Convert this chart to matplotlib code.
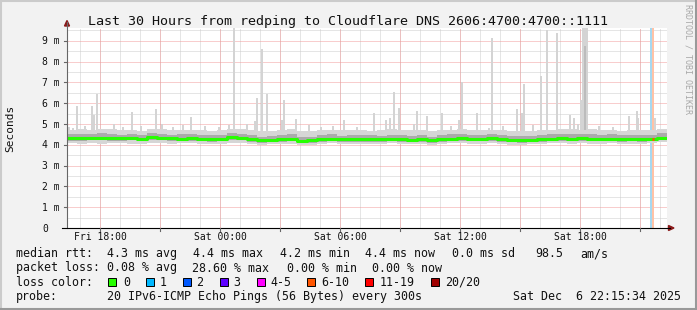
import matplotlib
matplotlib.use('Agg')
import matplotlib.pyplot as plt
import matplotlib.transforms as mtransforms
from matplotlib.patches import Rectangle, Polygon
from matplotlib.lines import Line2D
import numpy as np

# ---- data (hours since graph start Fri 16:21, values in ms) ----
median_rtt = [4.32, 4.31, 4.33, 4.34, 4.32, 4.31, 4.32, 4.30, 4.38, 4.33,
              4.31, 4.30, 4.32, 4.29, 4.28, 4.30, 4.36, 4.33, 4.27, 4.22,
              4.24, 4.26, 4.29, 4.20, 4.22, 4.27, 4.29, 4.26, 4.28, 4.27,
              4.27, 4.26, 4.29, 4.27, 4.25, 4.27, 4.21, 4.28, 4.30, 4.31,
              4.30, 4.29, 4.31, 4.28, 4.24, 4.23, 4.25, 4.26, 4.30, 4.32,
              4.30, 4.32, 4.30, 4.29, 4.30, 4.28, 4.29, 4.27, 4.30, 4.35]
smoke_hi = [4.72, 4.75, 4.70, 4.78, 4.74, 4.70, 4.72, 4.68, 4.76, 4.74,
            4.70, 4.72, 4.69, 4.71, 4.66, 4.70, 4.78, 4.75, 4.72, 4.68,
            4.66, 4.70, 4.74, 4.65, 4.67, 4.70, 4.72, 4.69, 4.73, 4.70,
            4.68, 4.71, 4.74, 4.72, 4.70, 4.73, 4.66, 4.70, 4.72, 4.74,
            4.71, 4.70, 4.73, 4.70, 4.66, 4.65, 4.68, 4.70, 4.72, 4.76,
            4.74, 4.72, 4.78, 4.70, 4.72, 4.68, 4.70, 4.69, 4.72, 4.76]
smoke_lo = [4.08, 4.06, 4.10, 4.05, 4.07, 4.09, 4.06, 4.04, 4.10, 4.08,
            4.05, 4.07, 4.09, 4.04, 4.03, 4.06, 4.10, 4.07, 4.02, 4.00,
            4.03, 4.05, 4.06, 3.99, 4.01, 4.05, 4.07, 4.04, 4.06, 4.05,
            4.04, 4.03, 4.07, 4.05, 4.03, 4.05, 3.99, 4.05, 4.07, 4.08,
            4.06, 4.05, 4.07, 4.05, 4.01, 4.00, 4.02, 4.04, 4.07, 4.09,
            4.06, 4.08, 4.06, 4.05, 4.07, 4.04, 4.06, 4.03, 4.07, 4.12]
mid_hi = [4.50, 4.52, 4.50, 4.56, 4.50, 4.48, 4.52, 4.47, 4.58, 4.52,
          4.49, 4.50, 4.51, 4.46, 4.45, 4.48, 4.56, 4.53, 4.46, 4.40,
          4.42, 4.45, 4.50, 4.40, 4.40, 4.46, 4.50, 4.44, 4.48, 4.46,
          4.45, 4.44, 4.49, 4.46, 4.43, 4.47, 4.40, 4.47, 4.50, 4.52,
          4.49, 4.48, 4.52, 4.46, 4.42, 4.41, 4.44, 4.45, 4.50, 4.53,
          4.50, 4.52, 4.50, 4.47, 4.50, 4.46, 4.48, 4.45, 4.49, 4.55]
mid_lo = [4.20, 4.19, 4.22, 4.21, 4.20, 4.19, 4.21, 4.18, 4.24, 4.21,
          4.19, 4.18, 4.20, 4.17, 4.16, 4.18, 4.23, 4.21, 4.15, 4.10,
          4.12, 4.14, 4.17, 4.08, 4.10, 4.15, 4.17, 4.14, 4.16, 4.15,
          4.15, 4.14, 4.17, 4.15, 4.13, 4.15, 4.09, 4.16, 4.18, 4.19,
          4.18, 4.17, 4.19, 4.16, 4.12, 4.11, 4.13, 4.14, 4.18, 4.20,
          4.18, 4.20, 4.18, 4.17, 4.18, 4.16, 4.17, 4.15, 4.18, 4.23]

spike_hours = [0.10, 0.30, 0.48, 0.90, 1.23, 1.37, 1.50, 2.35, 2.80, 3.23,
               3.70, 4.45, 4.73, 5.30, 5.80, 6.18, 6.90, 7.60, 8.10, 8.35,
               8.98, 9.40, 9.48, 9.73, 10.02, 10.73, 10.85, 11.43, 12.10, 12.70,
               13.30, 13.85, 14.50, 15.35, 15.93, 16.15, 16.35, 16.60, 17.37, 17.48,
               17.98, 18.73, 19.20, 19.60, 19.73, 20.48, 21.10, 21.23, 21.80, 22.48,
               22.73, 22.85, 23.30, 23.68, 23.98, 24.48, 25.15, 25.35, 25.57, 25.70,
               25.82, 25.90, 25.98, 26.60, 27.30, 28.12, 28.48, 28.57, 29.40]
spike_top = [4.85, 4.80, 5.87, 4.90, 5.88, 5.43, 6.44, 5.00, 4.85, 5.58,
             4.90, 5.72, 5.00, 4.85, 4.95, 5.35, 4.90, 4.85, 4.95, 9.70,
             5.00, 5.14, 6.26, 8.60, 6.44, 5.20, 6.15, 5.24, 4.95, 4.85,
             4.90, 5.20, 4.85, 5.53, 5.20, 5.30, 6.52, 5.76, 5.00, 5.63,
             5.40, 5.53, 4.90, 5.20, 7.00, 5.53, 4.80, 9.15, 4.90, 5.72,
             5.53, 6.92, 4.95, 7.32, 9.52, 9.39, 5.43, 5.30, 5.00, 6.15,
             9.70, 9.70, 9.70, 4.90, 4.85, 5.38, 5.64, 5.28, 5.28]
dark_spike_hours = [25.90]
dark_spike_top = [8.75]

loss_hours = [29.17, 29.25]
loss_band_colors = ['#a6d8f0', '#ffc2a6']

major_hours = [1.65, 7.65, 13.65, 19.65, 25.65]
x_labels = ['Fri 18:00', 'Sat 00:00', 'Sat 06:00', 'Sat 12:00', 'Sat 18:00']
y_values = [0, 1, 2, 3, 4, 5, 6, 7, 8, 9]
y_labels = ['0', '1 m', '2 m', '3 m', '4 m', '5 m', '6 m', '7 m', '8 m', '9 m']

legend_rows = [
    [(16, 'median rtt:'), (107, '4.3 ms avg'), (193, '4.4 ms max'), (280, '4.2 ms min'),
     (365, '4.4 ms now'), (451.5, '0.0 ms sd'), (535, '98.5'), (580, 'am/s')],
    [(16, 'packet loss:'), (107, '0.08 % avg'), (192, '28.60 % max'), (287, '0.00 % min'),
     (372, '0.00 % now')],
    [(16, 'loss color:')],
    [(16, 'probe:'), (107, '20 IPv6-ICMP Echo Pings (56 Bytes) every 300s'),
     (513, 'Sat Dec  6 22:15:34 2025')],
]
loss_names = ['0', '1', '2', '3', '4-5', '6-10', '11-19', '20/20']
loss_colors = ['#26ff00', '#00b8ff', '#0059ff', '#5e00ff', '#ff00ff', '#ff5500', '#ff0000', '#a00000']
loss_box_x = [108, 145.5, 182.5, 220, 256.5, 306.5, 365, 430.5]
loss_text_x = [123, 160, 196.5, 233, 270.5, 321.5, 380, 445]

W, H = 697, 310
MONO = 'DejaVu Sans Mono'


def fx(x):
    return x / W


def fy(y):
    return 1 - y / H


fig = plt.figure(figsize=(W / 100, H / 100), dpi=100, facecolor='#f2f2f2')
ax = fig.add_axes([fx(67), fy(228), 600 / W, 200 / H])
ax.set_facecolor('white')
ax.set_xlim(0, 30)
ax.set_ylim(0, 9.62)
for s in ax.spines.values():
    s.set_visible(False)
ax.set_xticks([])
ax.set_yticks([])

# grid: grey dotted minor, red dotted major (1px on / 1px off)
dot = dict(lw=0.72, ls=(0, (1, 1)))
for h in np.arange(0.65, 30, 1.0):
    ax.axvline(h, color='#cccccc', zorder=1, **dot)
for v in np.arange(0.5, 9.6, 1.0):
    ax.axhline(v, color='#cccccc', zorder=1, **dot)
for h in np.arange(1.65, 30, 3.0):
    ax.axvline(h, color='#f29c9c', zorder=1.5, **dot)
for v in y_values[1:]:
    ax.axhline(v, color='#f29c9c', zorder=1.5, **dot)

# loss bars (full height)
for h, c in zip(loss_hours, loss_band_colors):
    ax.axvspan(h, h + 1 / 12, color=c, lw=0, zorder=2)

# spikes
spike_top = np.array(spike_top)
ax.bar(spike_hours, spike_top - 4.6, bottom=4.6, width=0.1, color='#d4d4d4', lw=0, zorder=3)
ax.bar(dark_spike_hours, np.array(dark_spike_top) - 4.6, bottom=4.6, width=0.1,
       color='#bcbcbc', lw=0, zorder=3.1)

# smoke
t = np.arange(len(median_rtt)) * 0.5
tt = np.append(t, 30)


def ext(a):
    return np.append(a, a[-1])


ax.fill_between(tt, ext(smoke_lo), ext(smoke_hi), step='post', color='#d6d6d6', lw=0, zorder=4)
ax.fill_between(tt, ext(mid_lo), ext(mid_hi), step='post', color='#ababab', lw=0, zorder=4.1)

# median line
ax.step(tt, ext(median_rtt), where='post', color='#26ff00', lw=2.2, zorder=5)
ax.hlines(median_rtt[-2], 29.25, 29.33, color='#ff5500', lw=2.2, zorder=5.1)

# axes lines and arrows
fig.add_artist(Line2D([fx(67), fx(67)], [fy(228), fy(22)], color='#666666', lw=0.8))
fig.add_artist(Line2D([fx(62), fx(670)], [fy(228), fy(228)], color='#000000', lw=0.8))
fig.add_artist(Polygon([[fx(64.5), fy(26)], [fx(69.5), fy(26)], [fx(67), fy(20.5)]],
                       closed=True, color='#8b1a1a'))
fig.add_artist(Polygon([[fx(668.5), fy(225.5)], [fx(668.5), fy(230.5)], [fx(674), fy(228)]],
                       closed=True, color='#8b1a1a'))

# tick marks
for h in np.arange(1.65, 30, 3.0):
    x = 67 + h * 20
    fig.add_artist(Line2D([fx(x), fx(x)], [fy(228), fy(231)], color='#666666', lw=0.8))
for v in y_values[1:]:
    y = 228 - v * 20.8
    fig.add_artist(Line2D([fx(63.5), fx(67)], [fy(y), fy(y)], color='#666666', lw=0.8))

# tick labels
xtr = mtransforms.blended_transform_factory(ax.transData, fig.transFigure)
for h, lab in zip(major_hours, x_labels):
    ax.text(h, fy(240.5), lab, ha='center', va='baseline', transform=xtr,
            fontsize=7, family=MONO, color='#111111')
ytr = mtransforms.blended_transform_factory(fig.transFigure, ax.transData)
for v, lab in zip(y_values, y_labels):
    ax.text(fx(42), v - 0.17, lab, ha='left', va='baseline', transform=ytr,
            fontsize=7, family=MONO, color='#111111', clip_on=False)

# titles
fig.text(fx(348), fy(25), 'Last 30 Hours from redping to Cloudflare DNS 2606:4700:4700::1111',
         ha='center', va='baseline', fontsize=9.6, family=MONO, color='#111111')
fig.text(fx(10), fy(128), 'Seconds', rotation=90, ha='center', va='center',
         fontsize=8, family=MONO, color='#111111')
fig.text(fx(688), fy(4), 'RRDTOOL / TOBI OETIKER', rotation=270, ha='center', va='top',
         fontsize=6, family=MONO, color='#a8a8a8')

# legend
baselines = [257.4, 271.5, 285.6, 299.7]
for row, base in zip(legend_rows, baselines):
    for x, s in row:
        fig.text(fx(x), fy(base), s, ha='left', va='baseline', fontsize=8.4,
                 family=MONO, color='#111111')
for bx, tx, name, c in zip(loss_box_x, loss_text_x, loss_names, loss_colors):
    fig.add_artist(Rectangle((fx(bx), fy(285.5)), 8 / W, 8 / H, facecolor=c,
                             edgecolor='#000000', lw=0.7))
    fig.text(fx(tx), fy(285.6), name, ha='left', va='baseline', fontsize=8.4,
             family=MONO, color='#111111')

# 3D frame
fig.add_artist(Line2D([0, 1], [fy(0.5), fy(0.5)], color='#cbcbcb', lw=1.5))
fig.add_artist(Line2D([fx(0.5), fx(0.5)], [0, 1], color='#cbcbcb', lw=1.5))
fig.add_artist(Line2D([0, 1], [fy(309), fy(309)], color='#999999', lw=1.5))
fig.add_artist(Line2D([fx(696), fx(696)], [0, 1], color='#999999', lw=1.5))

fig.savefig('out.png', dpi=100, facecolor=fig.get_facecolor())
